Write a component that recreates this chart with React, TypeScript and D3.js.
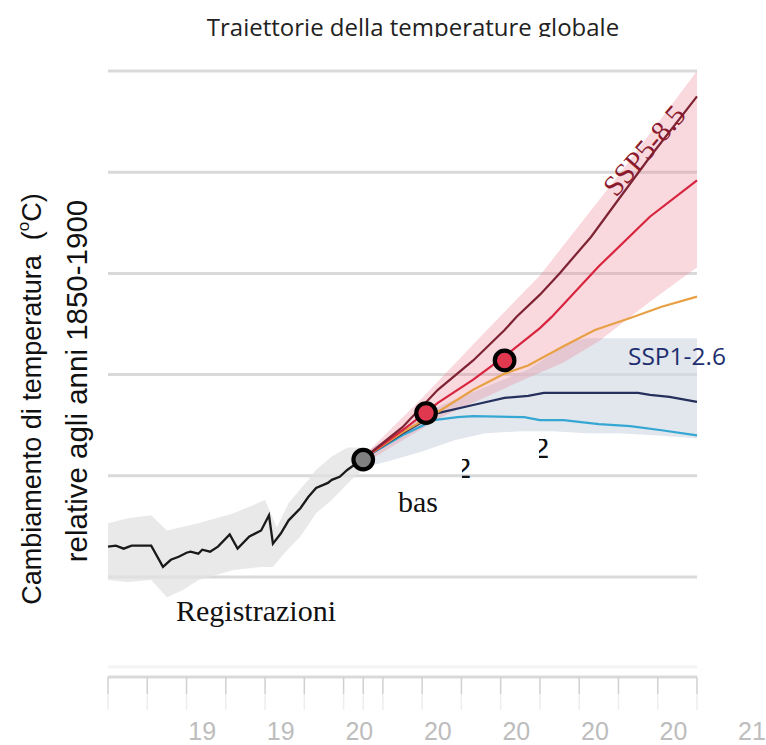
import React from "react";
import * as d3 from "d3";

// observed record (year, °C vs 1850-1900)
const observed: [number, number][] = [
  [1950, 0.3], [1952, 0.31], [1954, 0.28], [1956, 0.31], [1958, 0.31], [1961, 0.31],
  [1964, 0.1], [1966, 0.17], [1968, 0.2], [1970, 0.24], [1971, 0.25], [1973, 0.23],
  [1974, 0.27], [1976, 0.25], [1978, 0.3], [1981, 0.42], [1983, 0.28], [1986, 0.4],
  [1989, 0.46], [1991, 0.61], [1992, 0.33], [1994, 0.43], [1996, 0.56], [1999, 0.68],
  [2001, 0.79], [2003, 0.88], [2006, 0.93], [2007, 0.96], [2009, 0.99], [2011, 1.06],
  [2015, 1.17],
];
const observedUpper: [number, number][] = [
  [1950, 0.53], [1955, 0.58], [1961, 0.61], [1965, 0.46], [1973, 0.53], [1982, 0.63],
  [1990, 0.76], [1993, 0.49], [1996, 0.73], [2001, 0.96], [2003, 1.06], [2007, 1.19],
  [2011, 1.28], [2015, 1.28],
];
const observedLower: [number, number][] = [
  [1950, -0.03], [1955, -0.05], [1961, -0.03], [1965, -0.2], [1969, -0.13], [1973, -0.03],
  [1982, 0.07], [1989, 0.1], [1992, 0.1], [1995, 0.24], [1999, 0.4], [2003, 0.63],
  [2007, 0.76], [2012, 0.96], [2015, 1.06],
];

// scenario ranges
const highUpper: [number, number][] = [
  [2015, 1.19], [2030, 1.77], [2045, 2.38], [2060, 2.98], [2080, 3.97], [2100, 5.0],
];
const highLower: [number, number][] = [
  [2015, 1.12], [2035, 1.58], [2057, 1.97], [2066, 2.12], [2075, 2.33], [2088, 2.72], [2100, 3.06],
];
const lowUpper: [number, number][] = [
  [2015, 1.22], [2035, 1.7], [2057, 2.05], [2068, 2.33], [2072, 2.36], [2100, 2.36],
];
const lowLower: [number, number][] = [
  [2015, 1.08], [2022, 1.15], [2030, 1.24], [2038, 1.35], [2046, 1.42], [2055, 1.44],
  [2063, 1.44], [2072, 1.42], [2080, 1.42], [2089, 1.4], [2100, 1.37],
];

// scenario central estimates
const ssp585: [number, number][] = [
  [2015, 1.17], [2025, 1.48], [2034, 1.85], [2043, 2.14], [2051, 2.44], [2054, 2.57],
  [2060, 2.79], [2065, 3.0], [2073, 3.36], [2080, 3.73], [2088, 4.15], [2100, 4.75],
];
const ssp370: [number, number][] = [
  [2015, 1.17], [2025, 1.45], [2034, 1.72], [2043, 1.95], [2051, 2.18], [2060, 2.46],
  [2063, 2.57], [2075, 3.07], [2088, 3.56], [2100, 3.92],
];
const ssp245: [number, number][] = [
  [2015, 1.17], [2025, 1.43], [2034, 1.63], [2043, 1.85], [2051, 2.01], [2057, 2.09],
  [2066, 2.28], [2074, 2.44], [2083, 2.56], [2091, 2.67], [2100, 2.77],
];
const ssp126: [number, number][] = [
  [2015, 1.17], [2025, 1.42], [2034, 1.62], [2043, 1.7], [2051, 1.77], [2057, 1.79],
  [2061, 1.82], [2076, 1.82], [2085, 1.82], [2088, 1.8], [2093, 1.78], [2100, 1.73],
];
const ssp119: [number, number][] = [
  [2015, 1.17], [2025, 1.4], [2033, 1.55], [2039, 1.58], [2043, 1.59], [2056, 1.58],
  [2060, 1.55], [2066, 1.55], [2075, 1.51], [2083, 1.49], [2091, 1.45], [2100, 1.4],
];

const markers = [
  { year: 2015, temp: 1.16, fill: "#808080" },
  { year: 2031, temp: 1.62, fill: "#e0384f" },
  { year: 2051, temp: 2.14, fill: "#e0384f" },
];

const gridTemps = [0, 1, 2, 3, 4, 5];
const tickYears = [
  1950, 1960, 1970, 1980, 1990, 2000, 2010, 2015, 2020, 2030, 2040, 2050, 2060, 2070, 2080, 2090, 2100,
];
const labelYears = [1974, 1994, 2014, 2034, 2054, 2074, 2094, 2114];
const labelTexts = ["19", "19", "20", "20", "20", "20", "20", "21"];

const W = 766;
const H = 745;

export default function App() {
  const x = d3.scaleLinear().domain([1950, 2100]).range([108, 697]);
  const y = d3.scaleLinear().domain([0, 5]).range([577, 71]);

  const line = d3
    .line<[number, number]>()
    .x((d) => x(d[0]))
    .y((d) => y(d[1]));

  const band = (up: [number, number][], low: [number, number][]) =>
    line([...up, ...low.slice().reverse()]) + "Z";

  const series = [
    { data: ssp119, color: "#35a7d3" },
    { data: ssp126, color: "#25305c" },
    { data: ssp245, color: "#e8a045" },
    { data: ssp370, color: "#d8253f" },
    { data: ssp585, color: "#7e2333" },
  ];

  return (
    <div style={{ position: "absolute", left: 0, top: 0 }}>
      <svg width={W} height={H} style={{ display: "block", background: "#fff" }}>
        <defs>
          <clipPath id="titleClip">
            <rect x={0} y={0} width={W} height={37} />
          </clipPath>
          <clipPath id="twoA">
            <rect x={462} y={459} width={20} height={19} />
          </clipPath>
          <clipPath id="twoB">
            <rect x={539} y={439} width={20} height={20} />
          </clipPath>
        </defs>

        {/* title */}
        <text
          x={413}
          y={36}
          textAnchor="middle"
          fontFamily="'Open Sans', sans-serif"
          fontSize={24}
          fill="#222"
          clipPath="url(#titleClip)"
        >
          Traiettorie della temperature globale
        </text>

        {/* grid */}
        {gridTemps.map((t) => (
          <line
            key={t}
            x1={x(1950)}
            x2={x(2100)}
            y1={y(t)}
            y2={y(t)}
            stroke="#d9d9d9"
            strokeWidth={3}
          />
        ))}

        {/* uncertainty bands */}
        <path d={band(observedUpper, observedLower)} fill="#e2e2e2" fillOpacity={0.75} />
        <path d={band(lowUpper, lowLower)} fill="#d3d8e3" fillOpacity={0.65} />
        <path d={band(highUpper, highLower)} fill="#ee8a9c" fillOpacity={0.33} />

        {/* scenario lines */}
        {series.map((s, i) => (
          <path key={i} d={line(s.data)!} fill="none" stroke={s.color} strokeWidth={2.2} />
        ))}

        {/* observed */}
        <path d={line(observed)!} fill="none" stroke="#1a1a1a" strokeWidth={2.3} />

        {/* markers */}
        {markers.map((m, i) => (
          <circle
            key={i}
            cx={x(m.year)}
            cy={y(m.temp)}
            r={9.8}
            fill={m.fill}
            stroke="#000"
            strokeWidth={4.2}
          />
        ))}

        {/* bottom axis */}
        <line x1={x(1950)} x2={x(2100)} y1={667} y2={667} stroke="#f3f3f3" strokeWidth={3} />
        <line x1={x(1950)} x2={x(2100)} y1={677} y2={677} stroke="#dadada" strokeWidth={3} />
        {tickYears.map((t) => (
          <g key={t}>
            <line x1={x(t)} x2={x(t)} y1={677} y2={694} stroke="#d0d0d0" strokeWidth={1.5} />
            <line x1={x(t)} x2={x(t)} y1={694} y2={710} stroke="#eeeeee" strokeWidth={1.5} />
          </g>
        ))}
        {labelYears.map((t, i) => (
          <text
            key={t}
            x={x(t)}
            y={740}
            textAnchor="middle"
            fontFamily="'Liberation Sans', Arial, sans-serif"
            fontSize={25}
            fill="#bdbdbd"
          >
            {labelTexts[i]}
          </text>
        ))}

        {/* y axis title */}
        <text
          transform="translate(41,399) rotate(-90)"
          textAnchor="middle"
          fontFamily="'Liberation Sans', Arial, sans-serif"
          fontSize={27}
          fill="#111"
        >
          Cambiamento di temperatura{"\u00a0\u00a0"}(
          <tspan fontSize={17} dy={-12}>
            o
          </tspan>
          <tspan dy={12}>C)</tspan>
        </text>
        <text
          transform="translate(87,381) rotate(-90)"
          textAnchor="middle"
          fontFamily="'Liberation Sans', Arial, sans-serif"
          fontSize={29.5}
          fill="#111"
        >
          relative agli anni 1850-1900
        </text>

        {/* annotations */}
        <text x={176} y={621} fontFamily="'Liberation Serif', serif" fontSize={30} fill="#111">
          Registrazioni
        </text>
        <text x={398} y={512} fontFamily="'Liberation Serif', serif" fontSize={30} fill="#111">
          bas
        </text>
        <text
          x={455}
          y={478}
          fontFamily="'Liberation Sans', Arial, sans-serif"
          fontSize={29}
          fill="#111"
          clipPath="url(#twoA)"
        >
          2
        </text>
        <text
          x={533}
          y={458}
          fontFamily="'Liberation Sans', Arial, sans-serif"
          fontSize={29}
          fill="#111"
          clipPath="url(#twoB)"
        >
          2
        </text>
        <text x={628} y={365} fontFamily="'Open Sans', sans-serif" fontSize={24.5} fill="#1d2f6f">
          SSP1-2.6
        </text>
        <text
          transform="translate(616,198) rotate(-49)"
          fontFamily="'Liberation Serif', serif"
          fontSize={29}
          fill="#8a1a2c"
        >
          SSP5-8.5
        </text>
      </svg>
    </div>
  );
}
